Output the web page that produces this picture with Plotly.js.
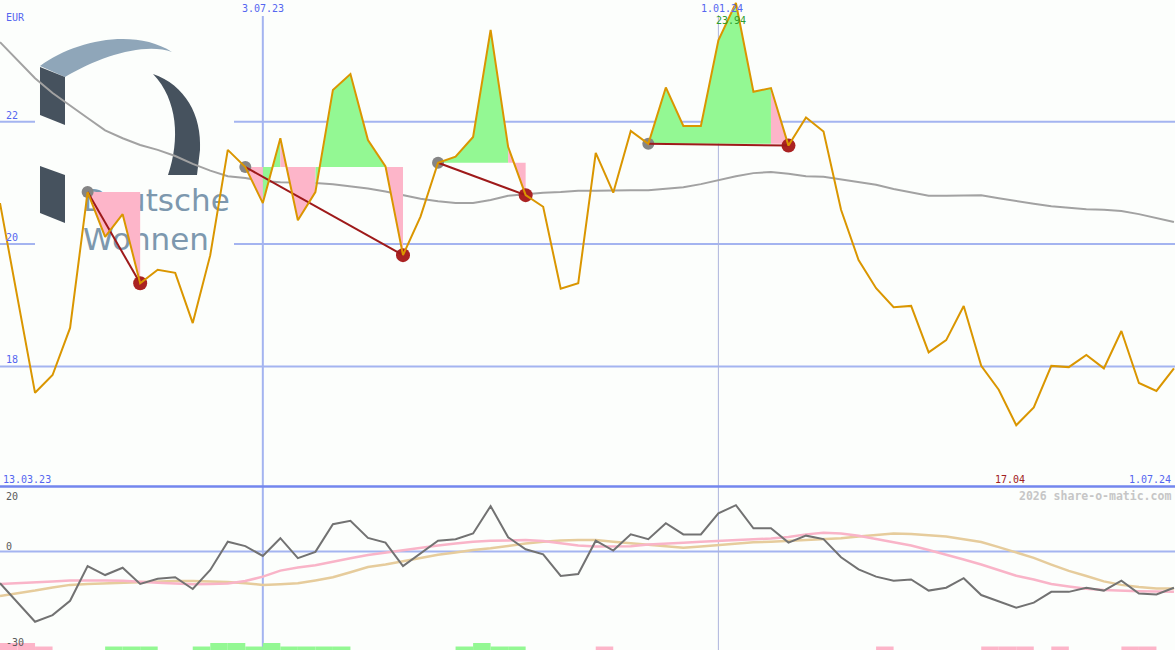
<!DOCTYPE html>
<html><head><meta charset="utf-8">
<script src="https://cdn.plot.ly/plotly-3.0.1.min.js"></script>
<style>html,body{margin:0;padding:0;background:#fcfefc;}#chart{width:1175px;height:650px;}</style>
</head><body><div id="chart"></div>
<script>
// ---- data ----
const dates = ["2023-03-20","2023-03-27","2023-04-03","2023-04-10","2023-04-17","2023-04-24","2023-05-01","2023-05-08","2023-05-15","2023-05-22",
"2023-05-29","2023-06-05","2023-06-12","2023-06-19","2023-06-26","2023-07-03","2023-07-10","2023-07-17","2023-07-24","2023-07-31",
"2023-08-07","2023-08-14","2023-08-21","2023-08-28","2023-09-04","2023-09-11","2023-09-18","2023-09-25","2023-10-02","2023-10-09",
"2023-10-16","2023-10-23","2023-10-30","2023-11-06","2023-11-13","2023-11-20","2023-11-27","2023-12-04","2023-12-11","2023-12-18",
"2023-12-25","2024-01-01","2024-01-08","2024-01-15","2024-01-22","2024-01-29","2024-02-05","2024-02-12","2024-02-19","2024-02-26",
"2024-03-04","2024-03-11","2024-03-18","2024-03-25","2024-04-01","2024-04-08","2024-04-15","2024-04-22","2024-04-29","2024-05-06",
"2024-05-13","2024-05-20","2024-05-27","2024-06-03","2024-06-10","2024-06-17","2024-06-24","2024-07-01"];

const price = [20.67,19.09,17.57,17.86,18.63,20.85,20.12,20.49,19.36,19.58,
 19.53,18.71,19.82,21.54,21.26,20.67,21.73,20.39,20.85,22.52,
 22.78,21.70,21.27,19.82,20.45,21.33,21.43,21.75,23.50,21.59,
 20.80,20.61,19.27,19.36,21.49,20.84,21.85,21.64,22.56,21.93,
 21.93,23.33,23.94,22.49,22.55,21.61,22.07,21.84,20.56,19.74,
 19.28,18.97,18.99,18.23,18.43,18.99,18.01,17.62,17.04,17.33,
 18.01,17.99,18.19,17.97,18.58,17.73,17.60,17.97];

const movingAvg = [23.30,23.01,22.71,22.47,22.26,22.06,21.86,21.73,21.62,21.54,
 21.44,21.31,21.20,21.11,21.08,21.03,21.01,21.01,21.00,20.98,
 20.95,20.91,20.86,20.80,20.74,20.70,20.67,20.67,20.72,20.79,
 20.82,20.84,20.85,20.87,20.87,20.88,20.88,20.88,20.90,20.93,
 20.98,21.05,21.11,21.16,21.18,21.15,21.11,21.10,21.06,21.01,
 20.97,20.90,20.84,20.79,20.79,20.80,20.80,20.75,20.70,20.66,
 20.62,20.59,20.57,20.56,20.54,20.49,20.43,20.36];

const momentum = [-10.0,-16.0,-22.1,-20.0,-15.5,-4.6,-7.4,-5.1,-10.2,-8.6,
 -8.1,-11.8,-5.8,3.1,1.7,-1.4,4.2,-2.1,-0.1,8.6,
 9.7,4.3,2.8,-4.6,-0.6,3.4,3.9,5.7,14.3,4.5,
 0.7,-0.9,-7.7,-7.1,3.4,0.3,5.4,3.9,8.9,5.4,
 5.4,12.0,14.6,7.3,7.3,2.8,5.0,3.9,-1.8,-5.6,
 -7.9,-9.2,-8.8,-12.3,-11.4,-8.4,-13.7,-15.8,-17.7,-16.1,
 -12.7,-12.7,-11.4,-12.3,-9.2,-13.2,-13.5,-11.4];

const signalPink = [-10.2,-10.0,-9.8,-9.4,-9.1,-9.0,-9.1,-9.2,-9.4,-9.8,
 -10.1,-10.3,-10.2,-10.1,-9.3,-7.9,-6.0,-5.0,-4.3,-3.1,
 -2.1,-1.1,-0.3,0.3,1.1,1.9,2.5,3.1,3.4,3.6,
 3.6,3.3,2.5,1.9,1.6,1.6,1.7,2.2,2.6,2.8,
 3.1,3.3,3.5,3.8,4.1,4.6,5.4,5.9,5.7,5.0,
 3.9,2.8,1.9,0.5,-0.9,-2.5,-4.1,-5.8,-7.6,-8.8,
 -10.2,-11.0,-11.7,-12.1,-12.4,-12.5,-12.6,-12.7];

const signalTan = [-14.0,-13.2,-12.3,-11.3,-10.5,-10.2,-10.0,-9.7,-9.5,-9.4,
 -9.3,-9.3,-9.4,-9.6,-10.0,-10.5,-10.3,-10.0,-9.1,-8.1,
 -6.5,-4.9,-4.1,-3.0,-1.9,-1.0,-0.3,0.5,1.0,1.8,
 2.5,3.1,3.5,3.6,3.6,3.1,2.6,2.0,1.5,1.2,
 1.6,2.1,2.5,2.9,3.1,3.4,3.5,3.8,4.2,4.7,
 5.3,5.7,5.5,5.2,4.7,3.9,3.0,1.4,-0.3,-2.0,
 -4.1,-6.1,-7.7,-9.4,-10.5,-11.2,-11.6,-11.6];

const barSignal = [-2,-2,-1,0,0,0,1,1,1,0,
 0,1,2,2,1,2,1,1,1,1,
 0,0,0,0,0,0,1,2,1,1,
 0,0,0,0,-1,0,0,0,0,0,
 0,0,0,0,0,0,0,0,0,0,
 -1,0,0,0,0,0,-1,-1,-1,0,
 -1,0,0,0,-1,-1,0,0];

const tradeStart = [5, 14, 25, 37];
const tradeEnd   = [8, 23, 30, 45];

const gridPrices = [22, 20, 18];
const markerDates = ["2023-07-03", "2024-01-01"];
const markerLabels = ["3.07.23", "1.01.24"];
const firstLabel = "13.03.23";
const lastLabel = "1.07.24";
const logoWords = ["Deutsche", "Wohnen"];

// ---- geometry helpers (pixels -> paper) ----
const W = 1175, H = 650;
const px = x => x / W;
const py = y => 1 - y / H;
function pathPx(cmds){
  return cmds.map(c => {
    const l = c[0]; const pts = [];
    for (let i = 1; i < c.length; i += 2) pts.push(px(c[i]).toFixed(5) + ',' + py(c[i+1]).toFixed(5));
    return l + pts.join(' ');
  }).join(' ') + ' Z';
}

// ---- colours ----
const GREEN = '#93f893', PINK = '#fdb5c9', GOLD = '#da9600', GRID = '#a4b4f0', BLUE = '#5566f0';
const BG = '#fcfefc';

// ---- fills between price and entry level ----
const gx = [], gy = [], kx = [], ky = [];
for (let t = 0; t < tradeStart.length; t++) {
  const s = tradeStart[t], e = tradeEnd[t], L = price[s];
  for (let i = s; i < e; i++) {
    const up = price[i+1] >= L;
    const X = up ? gx : kx, Y = up ? gy : ky;
    X.push(dates[i], dates[i], dates[i+1], dates[i+1], null);
    Y.push(L, price[i], price[i+1], L, null);
  }
}
const tlx = [], tly = [];
for (let t = 0; t < tradeStart.length; t++) {
  tlx.push(dates[tradeStart[t]], dates[tradeEnd[t]], null);
  tly.push(price[tradeStart[t]], price[tradeEnd[t]], null);
}

const barX = [], barY = [], barC = [];
barSignal.forEach((v, i) => { if (v !== 0) { barX.push(dates[i]); barY.push(Math.abs(v) * 1.1); barC.push(v > 0 ? GREEN : PINK); } });

const traces = [
  // logo lettering (drawn beneath the chart marks)
  {x: ['2023-04-22 05:00', '2023-04-22 05:00'], y: [20.67, 20.03], mode: 'text', text: logoWords, textposition: 'middle right',
   textfont: {family: 'DejaVu Sans', size: 31, color: '#7d98ae'}, yaxis: 'y'},
  {x: dates, y: movingAvg, mode: 'lines', line: {color: '#a2a2a2', width: 2}, yaxis: 'y'},
  {x: gx, y: gy, mode: 'none', fill: 'toself', fillcolor: GREEN, yaxis: 'y'},
  {x: kx, y: ky, mode: 'none', fill: 'toself', fillcolor: PINK, yaxis: 'y'},
  {x: tradeStart.map(i => dates[i]), y: tradeStart.map(i => price[i]), mode: 'markers', marker: {color: '#858585', size: 12}, yaxis: 'y'},
  {x: tradeEnd.map(i => dates[i]), y: tradeEnd.map(i => price[i]), mode: 'markers', marker: {color: '#aa2222', size: 14}, yaxis: 'y'},
  {x: tlx, y: tly, mode: 'lines', line: {color: '#9e1a1a', width: 2}, yaxis: 'y'},
  {x: dates, y: price, mode: 'lines', line: {color: GOLD, width: 2}, yaxis: 'y'},
  {x: barX, y: barY, base: -31, type: 'bar', width: 7*86400000, offset: 0, marker: {color: barC, line: {width: 0}}, yaxis: 'y2'},
  {x: dates, y: signalTan, mode: 'lines', line: {color: '#e6cc9c', width: 2.5}, yaxis: 'y2'},
  {x: dates, y: signalPink, mode: 'lines', line: {color: '#f9b4c8', width: 2.5}, yaxis: 'y2'},
  {x: dates, y: momentum, mode: 'lines', line: {color: '#727272', width: 2}, yaxis: 'y2'}
];

const shapes = [];
gridPrices.forEach(v => shapes.push({type: 'line', xref: 'paper', yref: 'y', x0: 0, x1: 1, y0: v, y1: v, line: {color: GRID, width: 2}, layer: 'below'}));
shapes.push({type: 'line', xref: 'paper', yref: 'y2', x0: 0, x1: 1, y0: 0, y1: 0, line: {color: GRID, width: 2}, layer: 'below'});
shapes.push({type: 'line', xref: 'x', yref: 'paper', x0: markerDates[0], x1: markerDates[0], y0: 0, y1: py(16), line: {color: GRID, width: 2}, layer: 'below'});
shapes.push({type: 'line', xref: 'x', yref: 'paper', x0: markerDates[1], x1: markerDates[1], y0: 0, y1: py(15), line: {color: '#aeb4dc', width: 1}, layer: 'below'});
shapes.push({type: 'rect', xref: 'paper', yref: 'paper', x0: px(35), x1: px(234), y0: py(268), y1: py(28), fillcolor: BG, line: {width: 0}, layer: 'below'});
shapes.push({type: 'path', xref: 'paper', yref: 'paper', layer: 'below', fillcolor: '#8fa6b9', line: {width: 0},
  path: pathPx([['M',40,66],['C',75,40,135,28,172,52],['C',145,42,100,56,65,77],['L',40,66]])});
shapes.push({type: 'path', xref: 'paper', yref: 'paper', layer: 'below', fillcolor: '#46525e', line: {width: 0},
  path: pathPx([['M',40,67],['L',65,77],['L',65,125],['L',40,115]])});
shapes.push({type: 'path', xref: 'paper', yref: 'paper', layer: 'below', fillcolor: '#46525e', line: {width: 0},
  path: pathPx([['M',40,166],['L',65,175],['L',65,223],['L',40,213]])});
shapes.push({type: 'path', xref: 'paper', yref: 'paper', layer: 'below', fillcolor: '#46525e', line: {width: 0},
  path: pathPx([['M',153,74],['C',185,85,202,115,200,150],['L',197,175],['L',168,175],['C',180,140,178,100,153,74]])});
shapes.push({type: 'line', xref: 'paper', yref: 'paper', x0: 0, x1: 1, y0: py(486.5), y1: py(486.5), line: {color: '#7386ee', width: 2.5}, layer: 'above'});

const mono = 'DejaVu Sans Mono, monospace';
function lab(text, x, y, anchor, color, size, extra) {
  return Object.assign({text: text, xref: 'paper', yref: 'paper', x: px(x), y: py(y), xanchor: anchor, yanchor: 'middle',
    showarrow: false, font: {family: mono, size: size || 10, color: color}, borderpad: 0}, extra || {});
}
const maxI = price.indexOf(Math.max(...price));
const minI = price.indexOf(Math.min(...price));
const annotations = [
  lab('EUR', 5, 18, 'left', BLUE),
  lab('22', 5, 115.5, 'left', BLUE),
  lab('20', 5, 237.5, 'left', BLUE),
  lab('18', 5, 359.5, 'left', BLUE),
  lab(markerLabels[0], 263, 9, 'center', BLUE),
  lab(markerLabels[1], 722, 9, 'center', BLUE),
  {text: price[maxI].toFixed(2), xref: 'x', yref: 'paper', x: dates[maxI], y: py(21), xanchor: 'center', yanchor: 'middle', xshift: -5,
    showarrow: false, font: {family: mono, size: 10, color: '#2e9e2e'}, borderpad: 0},
  lab(firstLabel, 2, 479, 'left', BLUE),
  {text: price[minI].toFixed(2), xref: 'x', yref: 'paper', x: dates[minI], y: py(479), xanchor: 'center', yanchor: 'middle', xshift: -6,
    showarrow: false, font: {family: mono, size: 10, color: '#a02020'}, borderpad: 0},
  lab(lastLabel, 1172, 479, 'right', BLUE),
  lab('<b>2026 share-o-matic.com</b>', 1172, 496, 'right', '#c6c6c6', 11.5),
  lab('20', 5, 496.5, 'left', '#5a5a5a'),
  lab('0', 5, 546, 'left', '#5a5a5a'),
  lab('-30', 5, 642, 'left', '#5a5a5a')
];

const layout = {
  width: W, height: H,
  margin: {l: 0, r: 0, t: 0, b: 0, pad: 0},
  paper_bgcolor: BG, plot_bgcolor: BG,
  showlegend: false,
  xaxis: {type: 'date', range: ['2023-03-20', '2024-07-01 10:00'], showgrid: false, zeroline: false, showticklabels: false, showline: false, ticks: '', fixedrange: true},
  yaxis: {domain: [1 - 487/H, 1], range: [16.031, 23.989], showgrid: false, zeroline: false, showticklabels: false, showline: false, ticks: ''},
  yaxis2: {domain: [0, 162/H], range: [-31, 20], showgrid: false, zeroline: false, showticklabels: false, showline: false, ticks: ''},
  shapes: shapes,
  annotations: annotations
};
Plotly.newPlot('chart', traces, layout, {staticPlot: true, displayModeBar: false});
</script></body></html>
